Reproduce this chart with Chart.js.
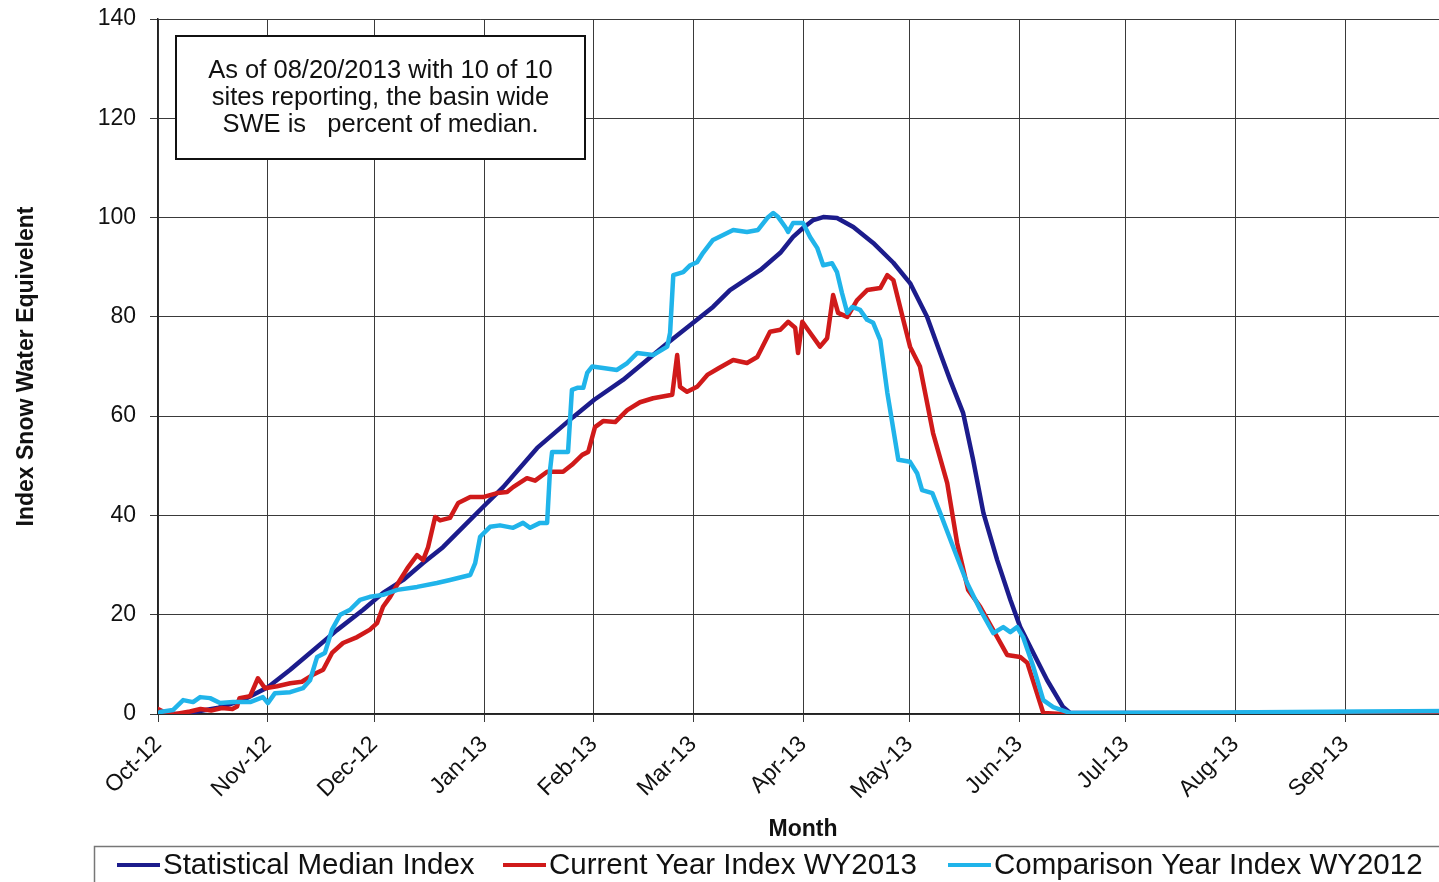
<!DOCTYPE html>
<html>
<head>
<meta charset="utf-8">
<script src="https://cdn.jsdelivr.net/npm/chart.js@4.4.1/dist/chart.umd.min.js"></script>
<style>
html, body { margin: 0; padding: 0; overflow: hidden; background: #fff; }
#wrap { width: 1449px; height: 892px; }
</style>
</head>
<body>
<div id="wrap"><canvas id="myChart"></canvas></div>
<script>
const ctx = document.getElementById('myChart');

// x = days since Oct 1 2012, ticks at each month start
const monthDays = [0, 31, 61, 92, 123, 151, 182, 212, 243, 273, 304, 335];
const monthLabels = ['Oct-12', 'Nov-12', 'Dec-12', 'Jan-13', 'Feb-13', 'Mar-13', 'Apr-13', 'May-13', 'Jun-13', 'Jul-13', 'Aug-13', 'Sep-13'];

// [day, index SWE]
const medianIndex = [
    [0, 0], [7, 0], [16.7, 1.2], [24, 2.8], [31, 5.4], [37.3, 8.9], [44.9, 13.5], [50.5, 16.9],
    [57.9, 21], [63.5, 24.4], [69.2, 27], [74.8, 30.4], [80.4, 33.6], [86.1, 37.7], [91.7, 41.7],
    [97.4, 45.7], [107, 53.6], [117.1, 59.8], [123.1, 63.3], [131.2, 67.3], [143.7, 74.7],
    [151, 78.8], [156.6, 82], [161.4, 85.4], [169.9, 89.4], [175.6, 92.9], [179.2, 96.1],
    [182, 97.9], [184.9, 99.5], [187.7, 100.1], [191.6, 99.9], [196.2, 98.1], [201.8, 94.9],
    [207.5, 90.9], [212.2, 86.8], [217, 80], [220.7, 72.7], [223.5, 67.3], [227.2, 60.6],
    [230, 51.2], [232.9, 40.5], [236.8, 31], [240.5, 23], [243.3, 17.5], [247, 12.3],
    [250.9, 6.8], [255.4, 1.4], [257.4, 0.2], [300, 0.2], [364, 0.4]
];

const currentYear = [
    [0, 1], [2, 0.3], [5, 0], [9, 0.5], [12, 1], [15, 0.7], [18, 1.2], [21, 1], [22.3, 1.5],
    [23, 3.2], [26, 3.6], [28.2, 7.2], [30.2, 5.2], [33.6, 5.6], [37.3, 6.2], [40.6, 6.5],
    [43.7, 7.9], [46.6, 8.9], [49.1, 12.3], [52.2, 14.3], [56.2, 15.5], [59.8, 17], [61.8, 18.3],
    [63.5, 21.6], [65.5, 23.6], [68.3, 27], [70.6, 29.6], [73.1, 32], [74.8, 31], [76.2, 33.6],
    [78.2, 39.7], [79.6, 39], [82.4, 39.5], [84.7, 42.5], [88.1, 43.7], [91.7, 43.7], [95.7, 44.5],
    [98.5, 44.7], [100.2, 45.7], [104.1, 47.5], [106.4, 47], [109.8, 48.8], [114.3, 48.8],
    [116.8, 50.2], [119.7, 52.2], [121.4, 52.8], [123.3, 57.8], [125.6, 59], [129, 58.8],
    [130.4, 59.8], [132.4, 61.2], [136, 62.8], [139.7, 63.6], [145.1, 64.3], [146.5, 72.3],
    [147.3, 65.9], [149.3, 64.9], [152.1, 65.9], [155, 68.3], [158.3, 69.7], [162.3, 71.3],
    [166.2, 70.7], [169.1, 71.9], [172.7, 77], [175.6, 77.4], [177.8, 79], [179.8, 77.8],
    [180.6, 72.7], [181.8, 79], [184, 76.8], [186.8, 74], [188.8, 75.7], [190.5, 84.4],
    [191.9, 80.8], [194.5, 80], [197.3, 83.4], [200.1, 85.4], [203.8, 85.8], [205.8, 88.4],
    [207.5, 87.4], [210.3, 79.4], [212.2, 74], [215, 70], [218.7, 56.6], [222.7, 46.5],
    [225.5, 34.4], [228.6, 25], [232, 21.6], [236.8, 15.5], [239.6, 11.9], [243.3, 11.5],
    [245.3, 10.3], [249.8, 0.2], [255, 0], [300, 0], [364, 0.2]
];

const comparisonYear = [
    [0, 0], [0.6, 0.4], [4.2, 0.8], [7.1, 2.8], [9.9, 2.4], [11.9, 3.4], [14.7, 3.2], [17.5, 2.2],
    [21.2, 2.4], [26, 2.4], [29.6, 3.4], [31, 2.2], [33, 4.2], [37.3, 4.4], [40.9, 5.2], [42.9, 6.8],
    [44.9, 11.5], [47.1, 12.3], [49.1, 17], [51.4, 20], [54.2, 21], [57, 23], [59.8, 23.6],
    [63.5, 24], [67.5, 25], [73.1, 25.6], [78.7, 26.4], [82.4, 27], [88.1, 28], [89.5, 30.4],
    [90.9, 35.7], [93.7, 37.7], [96.5, 38], [100.2, 37.5], [103, 38.5], [105, 37.5], [107.8, 38.5],
    [109.8, 38.5], [110.6, 49], [111.2, 52.8], [115.7, 52.8], [116.8, 65.3], [118.3, 65.7],
    [120, 65.7], [121.1, 68.7], [122.5, 70], [125.6, 69.7], [129.5, 69.3], [132.4, 70.7],
    [135.2, 72.7], [139.7, 72.3], [143.7, 74], [144.5, 76.8], [145.4, 88.4], [148.2, 89],
    [150.2, 90.4], [152.1, 91], [153.8, 92.9], [156.6, 95.5], [160.6, 96.9], [162.3, 97.5],
    [166.2, 97.1], [169.3, 97.5], [171.9, 99.9], [173.6, 100.9], [175, 100.1], [177, 98.1],
    [177.8, 97.1], [179.2, 98.9], [182, 98.9], [184, 96.1], [186, 93.9], [187.7, 90.4],
    [190.2, 90.8], [191.6, 89], [193, 84.8], [194.5, 80.8], [195.9, 82], [198.1, 81.4],
    [200.1, 79.4], [201.8, 78.8], [203.8, 75.3], [205.8, 64.7], [208.9, 51.2], [212.2, 50.8],
    [214.2, 48.5], [215.6, 45.1], [218.5, 44.5], [220.7, 40.5], [224.4, 33.6], [228.3, 26.4],
    [232, 21], [235.7, 16.3], [238.5, 17.5], [240.5, 16.5], [242.4, 17.5], [244.1, 15.5],
    [247, 9.5], [249.8, 2.8], [252.6, 1.4], [257.4, 0.2], [300, 0.3], [340, 0.5], [364, 0.6]
];

const seriesNames = ['Statistical Median Index', 'Current Year Index WY2013', 'Comparison Year Index WY2012'];
const seriesColors = ['#1c1c8c', '#d01a1a', '#20b4ea'];
const noteLines = ['As of 08/20/2013 with 10 of 10', 'sites reporting, the basin wide', 'SWE is   percent of median.'];

const FONT = '"Liberation Sans", Arial, sans-serif';
Chart.defaults.font.family = FONT;
Chart.defaults.color = '#111';

function toPoints(pairs) {
    return pairs.map(function(p) { return {x: p[0], y: p[1]}; });
}

// text box over the grid + legend strip at the bottom
const extras = {
    id: 'extras',
    beforeDatasetsDraw(chart) {
        const c = chart.ctx;
        const area = chart.chartArea;
        const bx = area.left + 18, by = area.top + 17, bw = 409, bh = 123;
        c.save();
        c.fillStyle = '#fff';
        c.fillRect(bx, by, bw, bh);
        c.strokeStyle = '#111';
        c.lineWidth = 2;
        c.strokeRect(bx, by, bw, bh);
        c.fillStyle = '#111';
        c.font = '25.5px ' + FONT;
        c.textAlign = 'center';
        c.textBaseline = 'middle';
        noteLines.forEach(function(t, i) { c.fillText(t, bx + bw / 2, by + 35 + i * 27); });
        c.restore();
    },
    afterDraw(chart) {
        const c = chart.ctx;
        c.save();
        c.strokeStyle = '#777';
        c.lineWidth = 1.5;
        c.strokeRect(94.5, 846.5, 1400, 80);
        const startX = [117, 503, 948];
        c.font = '29.5px ' + FONT;
        c.textBaseline = 'middle';
        c.textAlign = 'left';
        seriesNames.forEach(function(name, i) {
            c.strokeStyle = seriesColors[i];
            c.lineWidth = 4;
            c.beginPath();
            c.moveTo(startX[i], 865);
            c.lineTo(startX[i] + 43, 865);
            c.stroke();
            c.fillStyle = '#111';
            c.fillText(name, startX[i] + 46, 866);
        });
        c.restore();
    }
};

new Chart(ctx, {
    type: 'line',
    data: {
        datasets: [
            { label: seriesNames[0], data: toPoints(medianIndex), borderColor: seriesColors[0], order: 3 },
            { label: seriesNames[1], data: toPoints(currentYear), borderColor: seriesColors[1], order: 2 },
            { label: seriesNames[2], data: toPoints(comparisonYear), borderColor: seriesColors[2], order: 1 }
        ]
    },
    options: {
        responsive: true,
        maintainAspectRatio: false,
        animation: false,
        elements: {
            line: { borderWidth: 4.5, tension: 0, borderJoinStyle: 'round', borderCapStyle: 'round' },
            point: { radius: 0 }
        },
        layout: { padding: { top: 19, right: 1, left: 0, bottom: 0 } },
        plugins: {
            legend: { display: false },
            tooltip: { enabled: false }
        },
        scales: {
            x: {
                type: 'linear',
                min: 0,
                max: 364,
                afterBuildTicks: function(scale) {
                    scale.ticks = monthDays.map(function(d) { return {value: d}; });
                },
                afterFit: function(scale) { scale.height = 178; },
                ticks: {
                    autoSkip: false,
                    maxRotation: 45,
                    minRotation: 45,
                    padding: 9,
                    font: { size: 23 },
                    color: '#111',
                    callback: function(value, index) { return monthLabels[index]; }
                },
                grid: { color: '#3a3a3a', lineWidth: 1, tickLength: 8, tickColor: '#3a3a3a' },
                border: { color: '#222', width: 1.5 },
                title: {
                    display: true,
                    text: 'Month',
                    font: { size: 23, weight: 'bold' },
                    color: '#111',
                    padding: { top: 0, bottom: 49 }
                }
            },
            y: {
                min: 0,
                max: 140,
                afterFit: function(scale) {
                    scale.width = 158;
                    scale.paddingTop = 0;
                    scale.paddingBottom = 0;
                },
                ticks: {
                    stepSize: 20,
                    padding: 14,
                    font: { size: 23 },
                    color: '#111'
                },
                grid: { color: '#3a3a3a', lineWidth: 1, tickLength: 8, tickColor: '#3a3a3a' },
                border: { color: '#222', width: 1.5 },
                title: {
                    display: true,
                    text: 'Index Snow Water Equivelent',
                    font: { size: 23, weight: 'bold' },
                    color: '#111',
                    padding: { top: 13, bottom: 0 }
                }
            }
        }
    },
    plugins: [extras]
});
</script>
</body>
</html>
